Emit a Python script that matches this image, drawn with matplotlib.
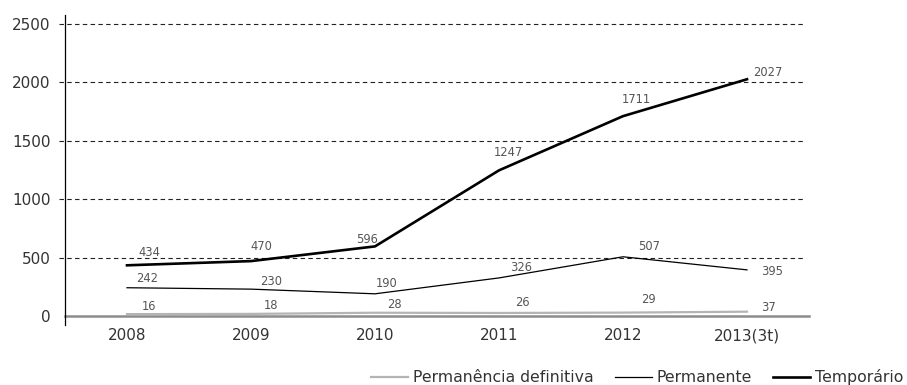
import matplotlib
matplotlib.use("Agg")
import matplotlib.pyplot as plt
import matplotlib.transforms as mtransforms
from matplotlib.lines import Line2D

plt.rcParams['font.family'] = ['DejaVu Sans']

categories = ['2008', '2009', '2010', '2011', '2012', '2013(3t)']
perm_definitiva = [16, 18, 28, 26, 29, 37]
permanente = [242, 230, 190, 326, 507, 395]
temporario = [434, 470, 596, 1247, 1711, 2027]
y_ticks = [0, 500, 1000, 1500, 2000, 2500]

# label offsets in pixels (dx, dy)
off_def = [(22, 8), (20, 8), (19, 8), (23, 10), (25, 13), (21, 4)]
off_perm = [(20, 9), (20, 8), (12, 10), (22, 10), (26, 10), (25, -2)]
off_temp = [(22, 13), (10, 15), (-8, 7), (9, 18), (13, 17), (21, 7)]

W, H = 907, 385
fig = plt.figure(figsize=(W / 100, H / 100), dpi=100)
ax = fig.add_axes([65 / W, (H - 316) / H, 744 / W, 292 / H])

x = list(range(len(categories)))
ax.set_xlim(-0.5, len(categories) - 0.5)
ax.set_ylim(0, 2500)

trans = mtransforms.blended_transform_factory(ax.transAxes, ax.transData)
for yv in y_ticks[1:]:
    ax.plot([-6 / 744, 1 - 4 / 744], [yv, yv], transform=trans, color='#222222',
            lw=0.8, ls=(0, (4, 3)), clip_on=False, zorder=1)

ax.plot([0, 1], [0, 0], transform=trans, color='#8c8c8c', lw=1.8, clip_on=False, zorder=2)
ax.plot([0, 0], [-9 / 292, 1 + 9 / 292], transform=ax.transAxes, color='black', lw=0.9,
        clip_on=False, zorder=3)
for s in ax.spines.values():
    s.set_visible(False)

l1, = ax.plot(x, perm_definitiva, color='#b4b4b4', lw=1.6, zorder=4)
l2, = ax.plot(x, permanente, color='black', lw=0.9, zorder=5)
l3, = ax.plot(x, temporario, color='black', lw=1.9, zorder=6)

for series, offs in [(perm_definitiva, off_def), (permanente, off_perm), (temporario, off_temp)]:
    for xi, v, (dx, dy) in zip(x, series, offs):
        ax.annotate(str(v), (xi, v), xytext=(dx, dy), textcoords='offset pixels',
                    ha='center', va='center', fontsize=8.3, color='#555555', zorder=7)

ax.set_yticks(y_ticks)
ax.set_yticklabels([str(t) for t in y_ticks])
ax.set_xticks(x)
ax.set_xticklabels(categories)
ax.tick_params(axis='both', length=0, labelsize=11, colors='#333333')
ax.tick_params(axis='y', pad=10.5)
ax.tick_params(axis='x', pad=9)

handles = [Line2D([], [], color='#b4b4b4', lw=1.6),
           Line2D([], [], color='black', lw=0.9),
           Line2D([], [], color='black', lw=1.9)]
labels = ['Permanência definitiva', 'Permanente', 'Temporário']
fig.legend(handles, labels, loc='center right', bbox_to_anchor=(903 / W, (H - 377) / H),
           ncol=3, frameon=False, fontsize=11.3, handlelength=2.35, handletextpad=0.3,
           columnspacing=1.35, labelcolor='#333333', borderaxespad=0, borderpad=0)

fig.savefig('out.png', dpi=100)
